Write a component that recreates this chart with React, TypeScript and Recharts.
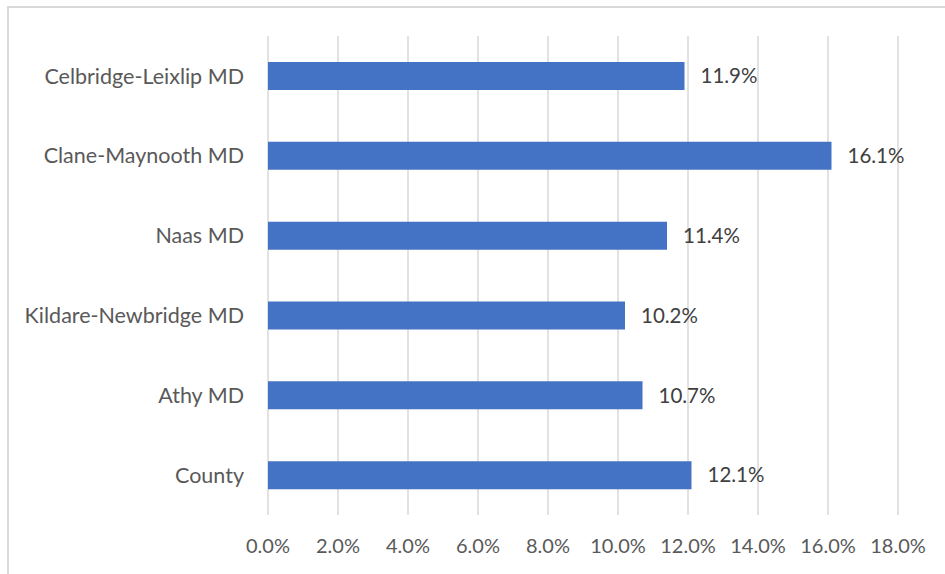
import { BarChart, Bar, XAxis, YAxis, CartesianGrid, LabelList } from "recharts";

const BAR = "#4472c4";
const GRID = "#d9d9d9";
const TICK = "#595959";
const VALUE = "#404040";
const FONT = "Lato, 'Open Sans', sans-serif";

const DISTRICTS = [
  "Celbridge-Leixlip MD",
  "Clane-Maynooth MD",
  "Naas MD",
  "Kildare-Newbridge MD",
  "Athy MD",
  "County",
];
const SHARES = [11.9, 16.1, 11.4, 10.2, 10.7, 12.1];
const X_TICKS = [0, 2, 4, 6, 8, 10, 12, 14, 16, 18];

const pct = (v: number) => `${Number(v).toFixed(1)}%`;

export default function App() {
  const data = DISTRICTS.map((name, i) => ({ name, share: SHARES[i] }));

  return (
    <div
      style={{
        position: "absolute",
        left: 0,
        top: 0,
        width: 945,
        height: 574,
        overflow: "hidden",
        background: "#fff",
      }}
    >
      {/* chart frame, cut off at right and bottom */}
      <div
        style={{
          position: "absolute",
          left: 7,
          top: 6,
          width: 1000,
          height: 700,
          border: `2px solid ${GRID}`,
          boxSizing: "border-box",
        }}
      />
      <div style={{ position: "absolute", left: 0, top: 0 }}>
        <BarChart
          width={945}
          height={574}
          data={data}
          layout="vertical"
          margin={{ top: 36, right: 47, bottom: 0, left: 0 }}
        >
          <CartesianGrid stroke={GRID} strokeWidth={1.5} horizontal={false} />
          <XAxis
            type="number"
            domain={[0, 18]}
            ticks={X_TICKS}
            tickFormatter={pct}
            axisLine={false}
            tickLine={false}
            tickSize={0}
            tickMargin={24}
            height={59}
            interval={0}
            tick={{ fontSize: 20, fill: TICK, fontFamily: FONT }}
          />
          <YAxis
            type="category"
            dataKey="name"
            width={268}
            axisLine={false}
            tickLine={false}
            tickSize={0}
            tickMargin={24}
            interval={0}
            tick={{ fontSize: 21.5, fill: TICK, fontFamily: FONT }}
          />
          <Bar dataKey="share" fill={BAR} barSize={28} isAnimationActive={false}>
            <LabelList
              dataKey="share"
              position="right"
              offset={16}
              formatter={(v: any) => pct(v)}
              style={{ fontSize: 20.5, fill: VALUE, fontFamily: FONT }}
            />
          </Bar>
        </BarChart>
      </div>
    </div>
  );
}
